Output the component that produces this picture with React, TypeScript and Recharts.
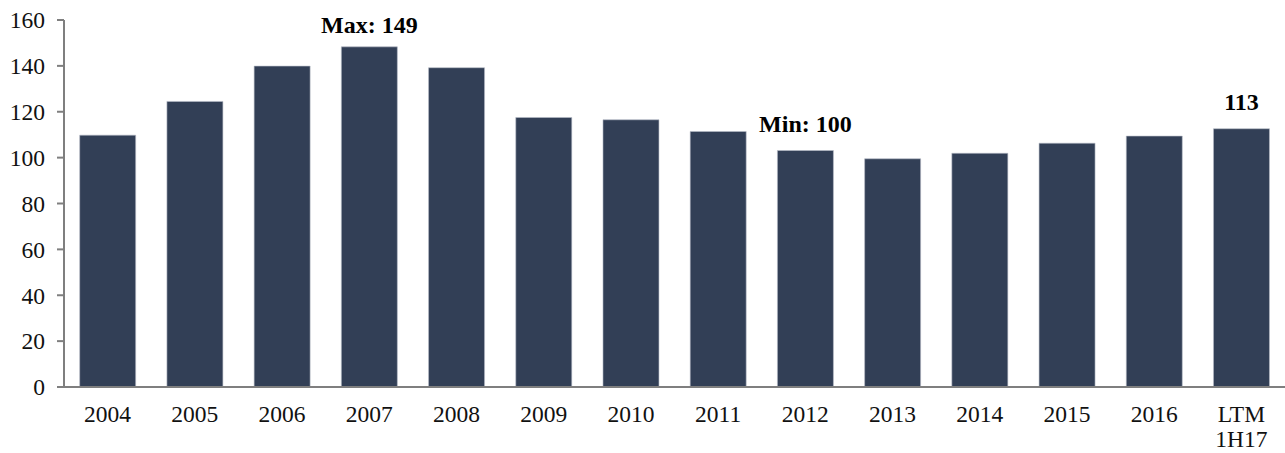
import React from "react";
import { BarChart, Bar, XAxis, YAxis, LabelList } from "recharts";

const categories = ["2004", "2005", "2006", "2007", "2008", "2009", "2010", "2011", "2012", "2013", "2014", "2015", "2016", "LTM\n1H17"];
const values = [109.8, 124.5, 139.9, 148.3, 139.2, 117.5, 116.5, 111.4, 103.1, 99.5, 101.9, 106.3, 109.4, 112.6];
const annotations = ["", "", "", "Max: 149", "", "", "", "", "Min: 100", "", "", "", "", "113"];
const yTicks = [0, 20, 40, 60, 80, 100, 120, 140, 160];

const data = categories.map((c, i) => ({ name: c, value: values[i], note: annotations[i] }));

const FONT = "'Liberation Serif', 'Times New Roman', serif";
const BAR = "#323f56";
const AXIS = "#7f7f7f";

const XTick = (props: any) => {
  const { x, y, payload } = props;
  const lines = String(payload.value).split("\n");
  return (
    <text x={x} y={y} textAnchor="middle" fontFamily={FONT} fontSize={23.5} fill="#111">
      {lines.map((l, i) => (
        <tspan key={i} x={x} dy={i === 0 ? "0.68em" : 25}>
          {l}
        </tspan>
      ))}
    </text>
  );
};

const NoteLabel = (props: any) => {
  const { x, y, width, value, index } = props;
  if (!value) return null;
  const isMax = values[index] === Math.max(...values);
  const off = isMax ? 22 : 27;
  return (
    <text
      x={x + width / 2}
      y={y - off}
      dy="0.35em"
      textAnchor="middle"
      fontFamily={FONT}
      fontWeight="bold"
      fontSize={24}
      fill="#000"
    >
      {value}
    </text>
  );
};

export default function App() {
  return (
    <div style={{ position: "absolute", left: 0, top: 0, background: "#fff" }}>
      <BarChart
        width={1285}
        height={453}
        data={data}
        margin={{ top: 20, right: 0, bottom: 0, left: 0 }}
        barCategoryGap="18%"
      >
        <XAxis
          dataKey="name"
          interval={0}
          height={66}
          tickLine={false}
          tickMargin={13}
          axisLine={{ stroke: AXIS, strokeWidth: 2 }}
          tick={<XTick />}
        />
        <YAxis
          width={64}
          domain={[0, 160]}
          ticks={yTicks}
          interval={0}
          tickSize={7}
          tickMargin={12}
          axisLine={{ stroke: AXIS, strokeWidth: 2 }}
          tickLine={{ stroke: AXIS, strokeWidth: 2 }}
          tick={{ fontFamily: FONT, fontSize: 23.5, fill: "#111" }}
        />
        <Bar dataKey="value" fill={BAR} stroke="#b8bec8" strokeWidth={0.6} isAnimationActive={false}>
          <LabelList dataKey="note" content={<NoteLabel />} />
        </Bar>
      </BarChart>
    </div>
  );
}
